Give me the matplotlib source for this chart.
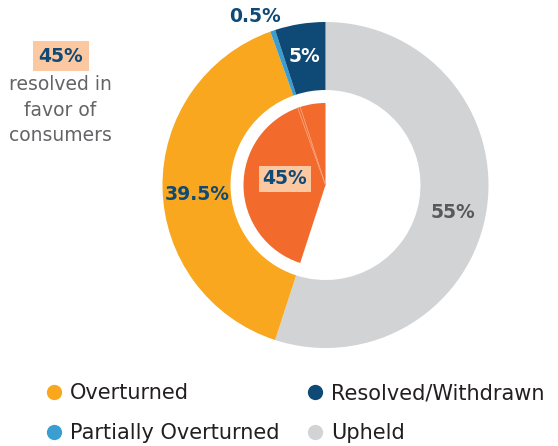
import matplotlib
matplotlib.use("Agg")
import matplotlib.pyplot as plt
from matplotlib.lines import Line2D
import numpy as np

categories = ["Upheld", "Overturned", "Partially Overturned", "Resolved/Withdrawn"]
values = [55, 39.5, 0.5, 5]
labels = ["55%", "39.5%", "0.5%", "5%"]
consumer_share = 45
legend_order = ["Overturned", "Partially Overturned", "Resolved/Withdrawn", "Upheld"]

colors = {"Upheld": "#D2D3D5", "Overturned": "#F9A71E",
          "Partially Overturned": "#3A9FD0", "Resolved/Withdrawn": "#0E4A75"}
inner_color = "#F26A2C"
peach = "#FBC8A2"
navy = "#0E4A75"

W, H = 558, 446
fig = plt.figure(figsize=(W / 100, H / 100), dpi=100)
ax = fig.add_axes([0, 0, 1, 1])

cx, cy = 325.5, H - 185
R = 163
ring_w = 68

ax.pie(values, radius=R, center=(cx, cy), startangle=90, counterclock=False,
       colors=[colors[c] for c in categories],
       wedgeprops=dict(width=ring_w, linewidth=0), frame=True)

# inner pie: consumer-favourable portion (Resolved + Partial + Overturned), drawn counter-clockwise
inner_vals = [values[3], values[2], values[1], values[0]]
inner_cols = [inner_color, inner_color, inner_color, "none"]
ax.pie(inner_vals, radius=82, center=(cx, cy), startangle=90,
       counterclock=True, colors=inner_cols,
       wedgeprops=dict(linewidth=0), frame=True)
acc = 0
for v in [values[3], values[2]]:
    acc += v
    ang = np.deg2rad(90 + acc / 100 * 360)
    ax.plot([cx, cx + 82 * np.cos(ang)], [cy, cy + 82 * np.sin(ang)],
            color="#F8A07A", lw=0.6)

ax.set_xlim(0, W)
ax.set_ylim(0, H)
ax.set_aspect("equal")
ax.axis("off")

bold = dict(fontweight="bold", ha="center", va="center", family="DejaVu Sans")
ax.text(453, H - 212, labels[0], color="#58595B", fontsize=13.5, **bold)
ax.text(197, H - 194, labels[1], color=navy, fontsize=13.5, **bold)
ax.text(255, H - 17, labels[2], color=navy, fontsize=13.5, **bold)
ax.text(304, H - 57, labels[3], color="white", fontsize=13.5, **bold)
ax.text(285, H - 179, f"{consumer_share}%", color=navy, fontsize=13.5,
        bbox=dict(boxstyle="square,pad=0.2", fc=peach, ec="none"), **bold)

ax.text(61, H - 56, f"{consumer_share}%", color=navy, fontsize=13.5,
        bbox=dict(boxstyle="square,pad=0.3", fc=peach, ec="none"), **bold)
ax.text(60, H - 110, "resolved in\nfavor of\nconsumers", color="#636466",
        fontsize=13.5, ha="center", va="center", linespacing=1.45,
        family="DejaVu Sans")

handles = [Line2D([], [], marker="o", ls="none", markersize=11,
                  markerfacecolor=colors[c], markeredgecolor="none", label=c)
           for c in legend_order]
fig.legend(handles=handles, ncol=2, loc="center left",
           bbox_to_anchor=(44 / W, 1 - 413 / H), frameon=False,
           prop=dict(family="DejaVu Sans", size=15),
           handletextpad=0.25, columnspacing=1.22, labelspacing=0.95,
           handlelength=1.0, borderpad=0, borderaxespad=0,
           labelcolor="#231F20")

fig.savefig("out.png", dpi=100)
